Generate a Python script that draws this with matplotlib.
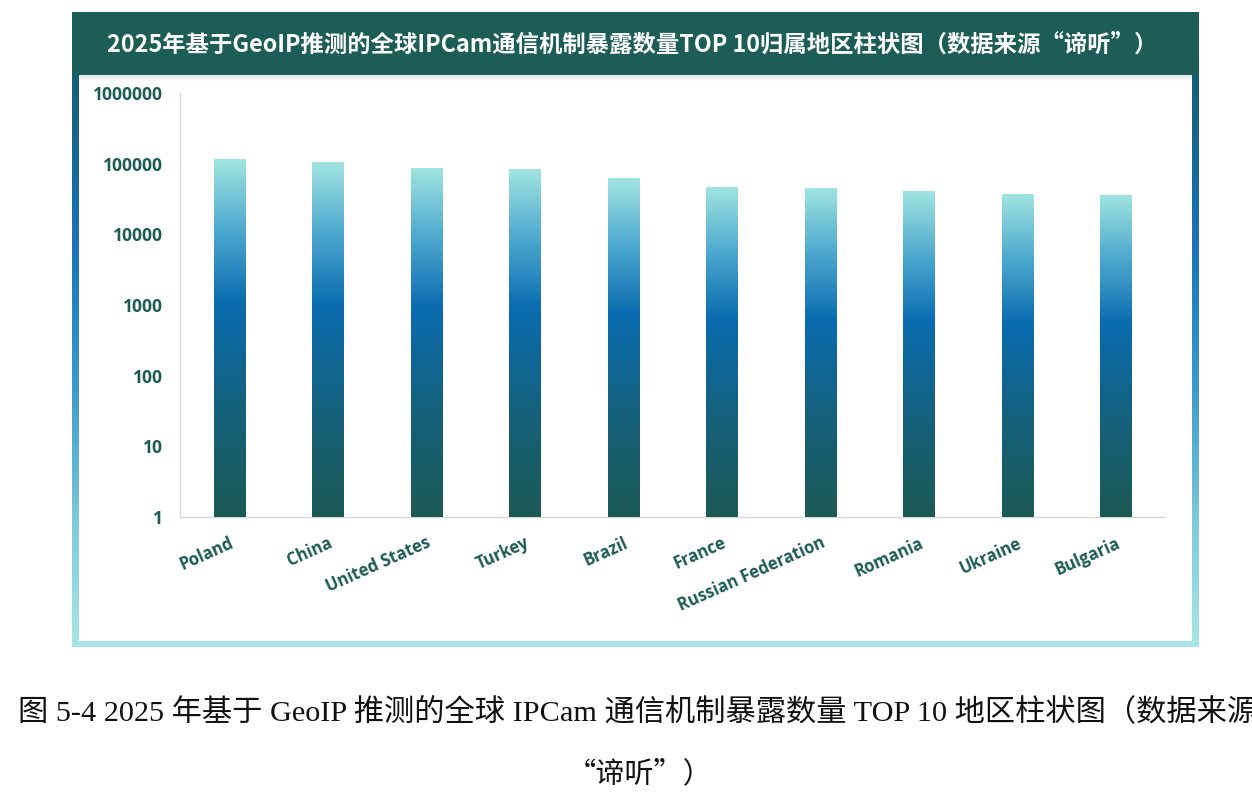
import numpy as np
import matplotlib
matplotlib.use("Agg")
import matplotlib.pyplot as plt
from matplotlib.colors import LinearSegmentedColormap
from matplotlib.image import AxesImage
from matplotlib.transforms import Bbox, TransformedBbox, BboxTransformTo, ScaledTranslation
from matplotlib.patches import Rectangle

# ---------------- data ----------------
countries = ["Poland", "China", "United States", "Turkey", "Brazil",
             "France", "Russian Federation", "Romania", "Ukraine", "Bulgaria"]
counts = [116000, 104500, 86900, 84000, 62000, 47200, 45700, 40600, 36800, 36400]
ytick_vals = [1, 10, 100, 1000, 10000, 100000, 1000000]
ytick_labels = ["1", "10", "100", "1000", "10000", "100000", "1000000"]
title = "2025年基于GeoIP推测的全球IPCam通信机制暴露数量TOP 10归属地区柱状图（数据来源“谛听”）"
caption1 = "图 5-4 2025 年基于 GeoIP 推测的全球 IPCam 通信机制暴露数量 TOP 10 地区柱状图（数据来源"
caption2 = "“谛听”）"

W, H = 1252, 811
DPI = 100
fig = plt.figure(figsize=(W / DPI, H / DPI), dpi=DPI)
fig.patch.set_facecolor("white")

TEXT_C = "#1d5c55"
BAND_C = "#1c5e57"

# ---------------- background frame (pixel coords) ----------------
bg = fig.add_axes([0, 0, 1, 1], zorder=0)
bg.set_xlim(0, W)
bg.set_ylim(H, 0)
bg.axis("off")

border_cmap = LinearSegmentedColormap.from_list(
    "border", [(0.0, "#135f78"), (0.3, "#1a74b6"), (0.55, "#3c9bcb"),
               (0.8, "#80cddd"), (1.0, "#aae5e4")])
grad_v = np.linspace(0, 1, 256).reshape(-1, 1)
for x0, x1 in [(72, 79), (1192, 1199)]:
    bg.imshow(grad_v, cmap=border_cmap, extent=(x0, x1, 647, 75),
              origin="upper", aspect="auto", interpolation="bilinear")
bg.add_patch(Rectangle((72, 641), 1127, 6, facecolor="#a9e5e4", edgecolor="none"))
for i in range(6):
    bg.add_patch(Rectangle((79, 75 + i), 1113, 1, facecolor="#9aa7a6",
                           alpha=0.22 * (1 - i / 6), edgecolor="none"))
bg.add_patch(Rectangle((72, 12), 1127, 63, facecolor=BAND_C, edgecolor="none"))
bg.text(632, 45, title, color="white", fontsize=16.8, fontweight="bold",
        family=["Noto Sans CJK SC", "DejaVu Sans"], ha="center", va="center")

# caption
bg.text(18, 712, caption1, color="#111111", fontsize=21.8,
        family=["Liberation Serif", "Noto Sans CJK SC"], ha="left", va="center")
bg.text(640, 774, caption2, color="#111111", fontsize=21,
        family=["Noto Sans CJK SC"], ha="center", va="center")

# ---------------- main axes ----------------
left, right = 180 / W, 1165 / W
bottom, top = (H - 517) / H, (H - 93) / H
ax = fig.add_axes([left, bottom, right - left, top - bottom], zorder=1)
ax.set_facecolor("none")
ax.set_yscale("log")
ax.set_ylim(1, 1e6)
ax.set_xlim(-0.5, len(countries) - 0.5)

x = np.arange(len(countries))
bar_w = 0.315
bars = ax.bar(x, counts, width=bar_w, bottom=1, color="#0b6aad", zorder=2)

bar_cmap = LinearSegmentedColormap.from_list(
    "bar", [(0.0, "#1b5a55"), (0.3, "#15617c"), (0.6, "#0a6cb0"),
            (0.8, "#4da8cf"), (1.0, "#a0e4e1")])
grad_bar = np.linspace(0, 1, 256).reshape(-1, 1)
for xi, v, rect in zip(x, counts, bars):
    bb = TransformedBbox(Bbox([[xi - bar_w / 2, 1], [xi + bar_w / 2, v]]), ax.transData)
    im = AxesImage(ax, cmap=bar_cmap, origin="lower", interpolation="bilinear",
                   extent=(0, 1, 0, 1))
    im.set_data(grad_bar)
    im.set_transform(BboxTransformTo(bb))
    im.set_clip_path(rect)
    im.set_zorder(3)
    ax.add_image(im)

ax.set_yticks(ytick_vals)
ax.set_yticklabels(ytick_labels)
ax.yaxis.set_minor_locator(matplotlib.ticker.NullLocator())
ax.tick_params(axis="y", length=0, pad=12, labelsize=12.6, labelcolor=TEXT_C)
for t in ax.get_yticklabels():
    t.set_fontweight("bold")
    t.set_family(["Open Sans", "DejaVu Sans"])
ax.set_xticks([])

for s in ["top", "right"]:
    ax.spines[s].set_visible(False)
for s in ["left", "bottom"]:
    ax.spines[s].set_color("#d9d9d9")
    ax.spines[s].set_linewidth(1.0)

off = ScaledTranslation(0 / DPI, -17 / DPI, fig.dpi_scale_trans)
for xi, name in zip(x, countries):
    ax.text(xi, 0, name, transform=ax.get_xaxis_transform() + off,
            rotation=24, rotation_mode="anchor", ha="right", va="top",
            fontsize=12, fontweight="bold", color=TEXT_C,
            family=["Open Sans", "DejaVu Sans"])

fig.savefig("out.png", dpi=DPI)
